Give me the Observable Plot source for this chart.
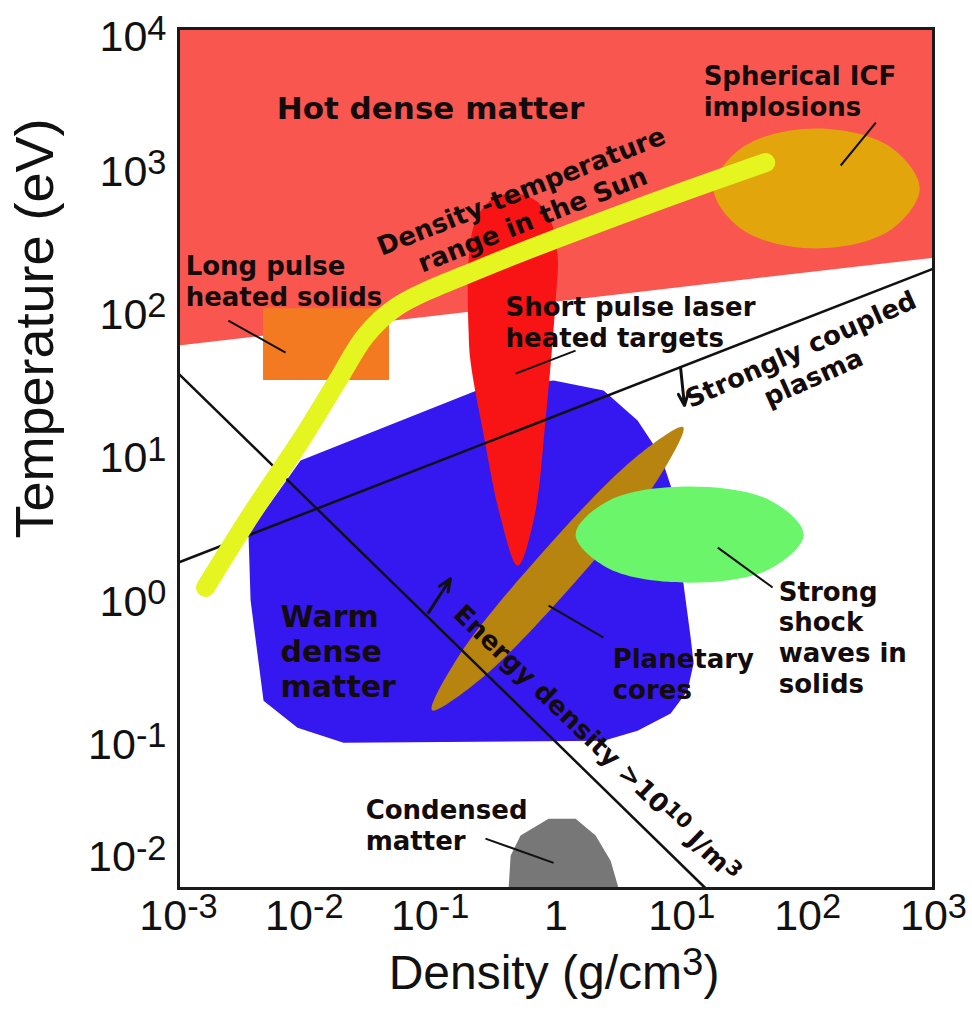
<!DOCTYPE html>
<html>
<head>
<meta charset="utf-8">
<script src="https://cdn.jsdelivr.net/npm/d3@7"></script>
<script src="https://cdn.jsdelivr.net/npm/@observablehq/plot@0.6"></script>
<style>
  html, body { margin: 0; padding: 0; background: white; overflow: hidden; }
  svg { display: block; }
</style>
</head>
<body>
<div id="chart"></div>
<script>
// ---- Axis ticks ----
const xTicks = [1e-3, 1e-2, 1e-1, 1, 1e1, 1e2, 1e3];
const yTicks = [1e-2, 1e-1, 1, 1e1, 1e2, 1e3, 1e4];

// ---- Regions (density g/cm3, temperature eV) ----
const hotDensity = [0.001, 1000, 1000, 0.001];
const hotTemp = [1e4, 1e4, 252, 61.4];

const longPulseDensity = [0.00474, 0.0475];
const longPulseTemp = [35, 111];

const icfDensity = [777, 448, 118, 31.0, 17.9, 31.0, 118, 448];
const icfTemp = [765, 1502, 2005, 1502, 765, 389, 292, 389];

const wdmDensity = [0.0036, 0.00933, 0.266, 0.957, 2.39, 4.45, 6.79, 8.93, 9.78, 10.3, 11.75, 12.4, 11.1, 8.15, 4.45, 2.39, 0.0205, 0.00883, 0.00474, 0.00374];
const wdmTemp = [2.99, 9.67, 31.2, 35.0, 29.8, 18.4, 10.5, 5.08, 1.94, 1.34, 0.563, 0.371, 0.240, 0.166, 0.126, 0.1075, 0.104, 0.1325, 0.204, 1.02];

const shortPulseDensity = [0.202, 0.202, 0.230, 0.302, 0.452, 0.689, 0.906, 1.03, 0.993, 0.826, 0.664, 0.496, 0.363, 0.265, 0.209];
const shortPulseTemp = [78, 240, 457, 631, 706, 631, 457, 261, 126, 18.4, 3.7, 1.79, 3.87, 14.9, 48];

const planetDensity = [10.24, 6.47, 1.393, 0.252, 0.1035, 0.164, 0.762, 4.22];
const planetTemp = [16.56, 7.20, 1.348, 0.289, 0.175, 0.403, 2.155, 10.06];

const shockDensity = [92.9, 50.8, 11.53, 2.62, 1.431, 2.62, 11.53, 50.8];
const shockTemp = [2.944, 5.08, 6.37, 5.08, 2.944, 1.705, 1.361, 1.705];

const condensedDensity = [0.420, 0.436, 0.523, 0.873, 1.431, 2.064, 2.716, 3.146];
const condensedTemp = [0.01, 0.0169, 0.0234, 0.0307, 0.0307, 0.0234, 0.0156, 0.01];

const sunDensity = [0.00164, 0.00373, 0.00933, 0.0184, 0.0307, 0.0531, 0.265, 5.65, 46.4];
const sunTemp = [1.26, 4.0, 13.3, 35, 72, 113, 215, 601, 1161];

// ---- Boundary lines ----
const energyDensity = [0.001, 15.5];
const energyTemp = [39.1, 0.01];
const couplingDensity = [0.001, 1000];
const couplingTemp = [1.88, 211];

// ---- Arrows (from -> to) ----
const arrowX1 = [9.77, 0.097];
const arrowY1 = [43, 0.841];
const arrowX2 = [10.5, 0.145];
const arrowY2 = [23.4, 1.45];

// ---- Leader lines ----
const leaderX1 = [0.00249, 1.43, 348, 19.3, 0.873, 0.275];
const leaderY1 = [91.6, 56.6, 2208, 2.39, 0.942, 0.0223];
const leaderX2 = [0.0071, 0.478, 183, 52.7, 2.39, 0.957];
const leaderY2 = [54.8, 39.1, 1107, 1.26, 0.562, 0.0151];

// ---- Labels ----
const labelText = [
  "Hot dense matter",
  "Spherical ICF\nimplosions",
  "Density-temperature\nrange in the Sun",
  "Long pulse\nheated solids",
  "Short pulse laser\nheated targets",
  "Strongly coupled\nplasma",
  "Warm\ndense\nmatter",
  "Energy density >10^10 J/m^3",
  "Planetary\ncores",
  "Strong\nshock\nwaves in\nsolids",
  "Condensed\nmatter"
];
const labelDensity = [0.1007, 14.9, 0.583, 0.00114, 0.397, 98.2, 0.00647, 2.14, 2.82, 58.9, 0.0307];
const labelTemp = [2812, 3690, 592, 174, 90.2, 46.7, 0.456, 0.104, 0.316, 0.571, 0.0279];

// ---- Styles (in code) ----
const labelStyle = [
  {fontSize: 31, textAnchor: "middle", rotate: 0},
  {fontSize: 26, textAnchor: "start", rotate: 0},
  {fontSize: 26, textAnchor: "middle", rotate: -21.6},
  {fontSize: 26, textAnchor: "start", rotate: 0},
  {fontSize: 26, textAnchor: "start", rotate: 0},
  {fontSize: 26, textAnchor: "middle", rotate: -24},
  {fontSize: 30, textAnchor: "start", rotate: 0},
  {fontSize: 26, textAnchor: "middle", rotate: 44},
  {fontSize: 26, textAnchor: "start", rotate: 0},
  {fontSize: 26, textAnchor: "start", rotate: 0},
  {fontSize: 26, textAnchor: "start", rotate: 0}
];

const pts = (xs, ys) => xs.map((x, i) => ({x, y: ys[i]}));
const shape = (xs, ys, fill, curve) => Plot.line(pts(xs, ys), {x: "x", y: "y", fill, stroke: "none", curve});

const labelMarks = labelText.map((t, i) => Plot.text([{x: labelDensity[i], y: labelTemp[i], t}], {
  x: "x", y: "y", text: "t",
  fontFamily: "DejaVu Sans", fontWeight: "bold",
  fontSize: labelStyle[i].fontSize, textAnchor: labelStyle[i].textAnchor,
  rotate: labelStyle[i].rotate, lineHeight: 1.18, fill: "#140c0c"
}));

const TICK_FONT = 43;
const chart = Plot.plot({
  width: 972,
  height: 1021,
  marginLeft: 178,
  marginRight: 39,
  marginTop: 28,
  marginBottom: 133,
  style: {fontFamily: "Liberation Sans, Arial, sans-serif", fontSize: TICK_FONT + "px", background: "white", color: "#111"},
  x: {type: "log", domain: [1e-3, 1e3], ticks: xTicks, tickSize: 0, tickPadding: 11, label: null,
      tickFormat: d => d === 1 ? "1" : "10^" + Math.round(Math.log10(d))},
  y: {type: "log", domain: [1e-2, 1e4], ticks: yTicks, tickSize: 0, tickPadding: 12, label: null,
      tickFormat: d => "10^" + Math.round(Math.log10(d))},
  marks: [
    shape(hotDensity, hotTemp, "#f9564f", "linear-closed"),
    Plot.rect([{x1: longPulseDensity[0], x2: longPulseDensity[1], y1: longPulseTemp[0], y2: longPulseTemp[1]}],
      {x1: "x1", x2: "x2", y1: "y1", y2: "y2", fill: "#f47a22"}),
    shape(icfDensity, icfTemp, "#e2a60c", "catmull-rom-closed"),
    shape(wdmDensity, wdmTemp, "#3518f0", "linear-closed"),
    shape(shortPulseDensity, shortPulseTemp, "#f81414", "catmull-rom-closed"),
    shape(planetDensity, planetTemp, "#b7840f", "catmull-rom-closed"),
    shape(shockDensity, shockTemp, "#6bf56b", "catmull-rom-closed"),
    shape(condensedDensity, condensedTemp, "#777777", "linear-closed"),
    Plot.line(pts(energyDensity, energyTemp), {x: "x", y: "y", stroke: "#111", strokeWidth: 2.5}),
    Plot.line(pts(couplingDensity, couplingTemp), {x: "x", y: "y", stroke: "#111", strokeWidth: 2.5}),
    Plot.line(pts(sunDensity, sunTemp), {x: "x", y: "y", stroke: "#e5f51f", strokeWidth: 19, strokeLinecap: "round", strokeLinejoin: "round", curve: "catmull-rom"}),
    Plot.arrow(arrowX1.map((x, i) => ({x1: x, y1: arrowY1[i], x2: arrowX2[i], y2: arrowY2[i]})),
      {x1: "x1", y1: "y1", x2: "x2", y2: "y2", stroke: "#111", strokeWidth: 3, headLength: 13, headAngle: 45}),
    Plot.link(leaderX1.map((x, i) => ({x1: x, y1: leaderY1[i], x2: leaderX2[i], y2: leaderY2[i]})),
      {x1: "x1", y1: "y1", x2: "x2", y2: "y2", stroke: "#111", strokeWidth: 2}),
    ...labelMarks,
    Plot.text(["Temperature (eV)"], {frameAnchor: "top-left", textAnchor: "middle", lineAnchor: "middle", dx: -143, dy: 300, rotate: -90, fontSize: 54, fill: "#111"}),
    Plot.text(["Density (g/cm^3)"], {frameAnchor: "bottom", textAnchor: "middle", dx: -2, dy: 100, fontSize: 48, fill: "#111"}),
    Plot.frame({stroke: "#1a1a1a", strokeWidth: 3})
  ]
});

document.getElementById("chart").appendChild(chart);

// ---- Superscript post-processing for "^n" in text ----
const NS = "http://www.w3.org/2000/svg";
function supify(el) {
  const kids = Array.from(el.childNodes);
  if (kids.some(n => n.nodeType !== 3)) {
    kids.filter(n => n.nodeType === 1).forEach(supify);
    return;
  }
  const s = el.textContent;
  if (!s.includes("^")) return;
  el.textContent = "";
  const parts = s.split(/\^(-?\d+)/);
  let raised = false;
  parts.forEach((p, i) => {
    if (p === "") return;
    const t = document.createElementNS(NS, "tspan");
    if (i % 2 === 1) {
      t.setAttribute("font-size", "80%");
      t.setAttribute("dy", "-0.34em");
      raised = true;
    } else if (raised) {
      t.setAttribute("dy", "0.272em");
      raised = false;
    }
    t.textContent = p;
    el.appendChild(t);
  });
}
// shift a text vertically, keeping whatever offset Plot already gave it
function shiftY(el, px) {
  const a = el.getAttribute("y") || "0";
  const base = a.endsWith("em") ? parseFloat(a) * TICK_FONT : parseFloat(a) || 0;
  el.setAttribute("y", String(base + px));
}
chart.querySelectorAll("text").forEach(el => {
  const g = el.closest("g");
  const isY = g && (g.getAttribute("text-anchor") === "end" || (g.getAttribute("aria-label") || "").startsWith("y-axis"));
  // position the extreme y tick labels as in the reference
  if (isY && el.textContent === "10^-2") shiftY(el, -31);
  if (isY && el.textContent === "10^4") shiftY(el, 9);
  supify(el);
});
</script>
</body>
</html>
